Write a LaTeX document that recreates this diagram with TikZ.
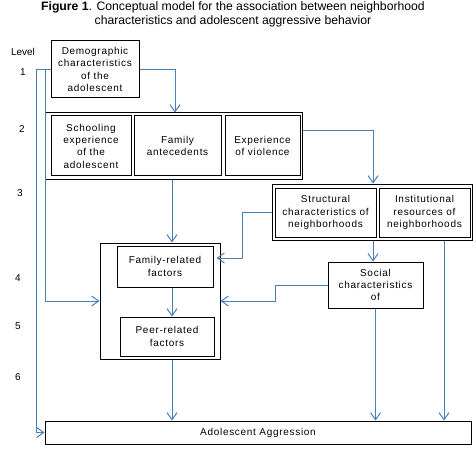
\documentclass[tikz,border=0pt]{standalone}
\usepackage{fontspec}
\setmainfont{Liberation Sans}
\newfontfamily\spaced[LetterSpace=7]{Liberation Sans}
\usetikzlibrary{arrows.meta}
\definecolor{lnblue}{RGB}{74,126,187}
\begin{document}
\begin{tikzpicture}[x=1pt,y=-1pt,
  box/.style={draw=black,line width=1pt,inner sep=0pt,align=center,
    font=\spaced\fontsize{10}{12.3}\selectfont},
  lvl/.style={inner sep=0pt,font=\fontsize{10}{12}\selectfont},
  conn/.style={draw=lnblue,line width=1pt},
  arr/.style={conn,-{Straight Barb[length=7pt,width=10pt]}}]
\useasboundingbox (0,0) rectangle (476,449);

% title
\node[align=center,inner sep=0pt,font=\fontsize{12.2}{14}\selectfont] (title) at (233,14)
  {\textbf{Figure 1}. Conceptual model for the association between neighborhood\\characteristics and adolescent aggressive behavior};

% level labels
\node[lvl] (lv)  at (23,52) {Level};
\node[lvl] (lv1) at (23,72) {1};
\node[lvl] (lv2) at (22,129) {2};
\node[lvl] (lv3) at (20,193) {3};
\node[lvl] (lv4) at (18,278) {4};
\node[lvl] (lv5) at (18,326) {5};
\node[lvl] (lv6) at (18,377) {6};

% boxes
\node[box,minimum width=88pt,minimum height=57pt] (demo) at (95,69.5)
  {Demographic\\characteristics\\of the\\adolescent};

\node[box,minimum width=257pt,minimum height=67pt] (grp2) at (173.5,146.5) {};
\node[box,minimum width=80pt,minimum height=60pt] (school) at (91,146)
  {Schooling\\experience\\of the\\adolescent};
\node[box,minimum width=87pt,minimum height=60pt] (famant) at (177.5,146)
  {Family\\antecedents};
\node[box,minimum width=75pt,minimum height=60pt] (viol) at (262.5,146)
  {Experience\\of violence};

\node[box,minimum width=200.5pt,minimum height=56pt] (grp3) at (372.25,212) {};
\node[box,minimum width=101pt,minimum height=49pt] (struct) at (325.5,212.5)
  {Structural\\characteristics of\\neighborhoods};
\node[box,minimum width=91pt,minimum height=49pt] (inst) at (424.5,212.5)
  {Institutional\\resources of\\neighborhoods};

\node[box,minimum width=95pt,minimum height=46pt] (social) at (375.5,285)
  {Social\\characteristics\\of};

\node[box,minimum width=120pt,minimum height=116pt] (big) at (160,301) {};
\node[box,minimum width=96pt,minimum height=41pt] (famrel) at (165,266.5)
  {Family-related\\factors};
\node[box,minimum width=94pt,minimum height=39pt] (peer) at (167,336.5)
  {Peer-related\\factors};

\node[box,minimum width=426pt,minimum height=23pt] (aggr) at (258,432.5)
  {Adolescent Aggression};

% helper coordinates
\coordinate (L1) at (36,0);
\coordinate (L2) at (45,0);
\coordinate (V) at (172,0);
\coordinate (V2) at (175,0);
\coordinate (H2) at (0,131);
\coordinate (V3) at (373,0);
\coordinate (V4) at (242,0);
\coordinate (H4) at (0,258);
\coordinate (V5) at (275,0);
\coordinate (V6) at (444,0);

% connectors
\draw[arr] (demo.east) -- (demo.east -| V2) -- (V2 |- grp2.north);
\draw[arr] (demo.west) -- (demo.west -| L1) -- (L1 |- aggr.west) -- (aggr.west);
\draw[arr] (demo.west -| L2) -- (L2 |- big.west) -- (big.west);
\draw[arr] (V |- grp2.south) -- (V |- big.north);
\draw[arr] (V |- famrel.south) -- (V |- peer.north);
\draw[arr] (V |- big.south) -- (V |- aggr.north);
\draw[arr] (grp2.east |- H2) -- (V3 |- H2) -- (V3 |- grp3.north);
\draw[arr] (V3 |- grp3.south) -- (V3 |- social.north);
\draw[arr] (grp3.west) -- (grp3.west -| V4) -- (V4 |- H4) -- ([xshift=3pt]H4 -| famrel.east);
\draw[arr] (social.west) -- (social.west -| V5) -- (V5 |- big.east) -- (big.east);
\draw[arr] (social.south) -- (social.south |- aggr.north);
\draw[arr] (V6 |- grp3.south) -- (V6 |- aggr.north);
\end{tikzpicture}
\end{document}
